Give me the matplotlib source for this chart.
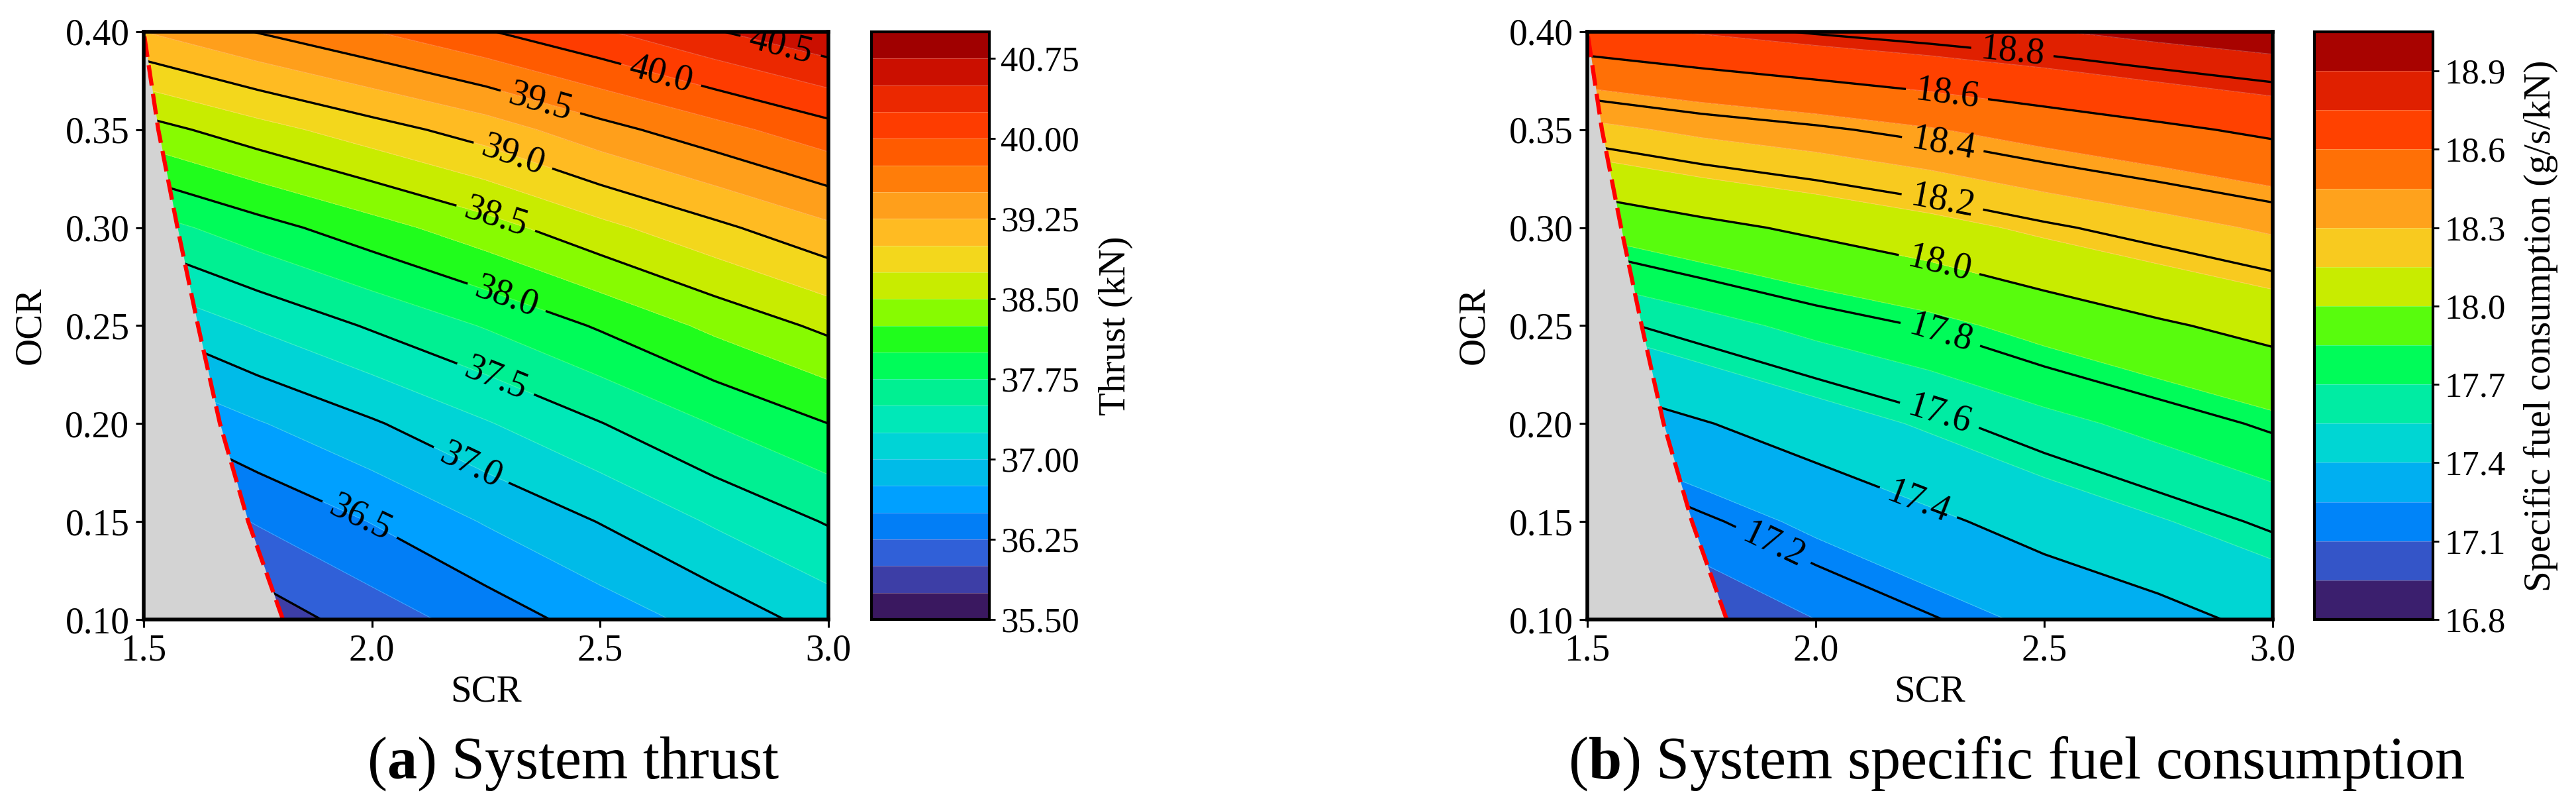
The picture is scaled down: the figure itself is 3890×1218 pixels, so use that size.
import numpy as np
import matplotlib
matplotlib.use('Agg')
import matplotlib.pyplot as plt
from matplotlib.colors import LinearSegmentedColormap
from matplotlib.ticker import FormatStrFormatter

plt.rcParams['font.family'] = 'Liberation Serif'
plt.rcParams['mathtext.fontset'] = 'custom'
plt.rcParams['mathtext.rm'] = 'Liberation Serif'
plt.rcParams['mathtext.bf'] = 'Liberation Serif:bold'

# --- valores (filas = OCR, columnas = SCR) ---
scr = [1.5, 1.75, 2.0, 2.25, 2.5, 2.75, 3.0]
ocr = [0.10, 0.15, 0.20, 0.25, 0.30, 0.35, 0.40]

thrust_kn = [
    [35.50, 35.85, 36.12, 36.36, 36.61, 36.84, 37.10],
    [35.99, 36.27, 36.51, 36.77, 37.01, 37.28, 37.52],
    [36.47, 36.73, 36.97, 37.23, 37.49, 37.76, 38.00],
    [37.01, 37.28, 37.53, 37.77, 38.03, 38.31, 38.56],
    [37.63, 37.90, 38.15, 38.40, 38.68, 38.94, 39.20],
    [38.39, 38.65, 38.89, 39.12, 39.41, 39.66, 39.91],
    [39.25, 39.51, 39.74, 39.98, 40.22, 40.48, 40.71],
]

sfc_gskn = [
    [16.82, 16.99, 17.10, 17.19, 17.28, 17.35, 17.44],
    [17.06, 17.18, 17.28, 17.37, 17.46, 17.54, 17.62],
    [17.30, 17.39, 17.48, 17.57, 17.66, 17.74, 17.82],
    [17.56, 17.65, 17.74, 17.81, 17.90, 17.98, 18.05],
    [17.88, 17.96, 18.03, 18.10, 18.18, 18.25, 18.32],
    [18.26, 18.33, 18.38, 18.44, 18.51, 18.57, 18.63],
    [18.71, 18.76, 18.81, 18.85, 18.89, 18.94, 18.98],
]

# limite de la zona no factible (linea roja discontinua)
limite_ocr = [0.10, 0.15, 0.20, 0.25, 0.30, 0.35, 0.40]
limite_scr = [1.805, 1.729, 1.667, 1.619, 1.574, 1.532, 1.50]

# colores de las bandas (muestreados de la barra de colores)
band_colors = ['#3a1860', '#3d3fa8', '#3060d8', '#0080f8', '#00a0ff', '#00bae8',
               '#00d5d5', '#00e8b8', '#00f090', '#00fc58', '#1dfd1d', '#8afb00',
               '#c8ec00', '#f2d81c', '#ffbb22', '#ffa01c', '#ff7f0a', '#ff5b00',
               '#ff3d00', '#eb2800', '#cc1000', '#a00000']

pos = (np.arange(len(band_colors)) + 0.5) / len(band_colors)
pos = np.concatenate([[0.0], pos, [1.0]])
cols = [band_colors[0]] + band_colors + [band_colors[-1]]
cmap = LinearSegmentedColormap.from_list('bandas', list(zip(pos, cols)))

W, H = 3890, 1218


def rect(x0, y0, x1, y1):
    # pixeles (origen arriba a la izquierda) -> fraccion de figura
    return [x0 / W, 1 - y1 / H, (x1 - x0) / W, (y1 - y0) / H]


def dibujar_panel(fig, r_ax, r_cb, z, niveles, lineas, ticks_cb, fmt_cb,
                  etiqueta_cb, pos_labels, x_lab_cb):
    ax = fig.add_axes(r_ax)
    cax = fig.add_axes(r_cb)
    S, O = np.meshgrid(scr, ocr)
    Z = np.array(z)

    cf = ax.contourf(S, O, Z, levels=niveles, cmap=cmap, zorder=1)
    ax.contour(S, O, Z, levels=niveles, colors='white', linewidths=0.8,
               alpha=0.25, zorder=1.5)
    cs = ax.contour(S, O, Z, levels=lineas, colors='black', linewidths=2.4,
                    zorder=2)
    ax.clabel(cs, fmt='%.1f', fontsize=40, manual=pos_labels, inline_spacing=14)

    ax.fill_betweenx(limite_ocr, 1.5, limite_scr, color='lightgray', lw=0,
                     zorder=3)
    ax.plot(limite_scr, limite_ocr, color='red', lw=4.5, ls=(0, (5, 2)),
            zorder=4)

    ax.set_xlim(1.5, 3.0)
    ax.set_ylim(0.10, 0.40)
    ax.set_xticks([1.5, 2.0, 2.5, 3.0])
    ax.set_yticks([0.10, 0.15, 0.20, 0.25, 0.30, 0.35, 0.40])
    ax.xaxis.set_major_formatter(FormatStrFormatter('%.1f'))
    ax.yaxis.set_major_formatter(FormatStrFormatter('%.2f'))
    ax.tick_params(labelsize=40, length=8.5, width=2.2, pad=7, direction='out')
    for sp in ax.spines.values():
        sp.set_linewidth(4)
        sp.set_zorder(10)

    ax.set_xlabel('SCR', fontsize=41)
    ax.xaxis.label.set_va('center')
    ax.xaxis.set_label_coords(0.5, -0.124)
    ax.set_ylabel('OCR', fontsize=41)
    ax.yaxis.label.set_va('center')
    ax.yaxis.set_label_coords(-0.165, 0.5)

    cb = fig.colorbar(cf, cax=cax, ticks=ticks_cb)
    cb.ax.yaxis.set_major_formatter(FormatStrFormatter(fmt_cb))
    cb.outline.set_linewidth(3)
    cb.ax.tick_params(labelsize=38, length=6.5, width=2, pad=6)
    for nv in niveles[1:-1]:
        cb.ax.axhline(nv, color='white', lw=0.8, alpha=0.25)
    cb.set_label(etiqueta_cb, fontsize=41)
    cb.ax.yaxis.label.set_va('center')
    cb.ax.yaxis.set_label_coords(x_lab_cb, 0.5)
    return ax


fig = plt.figure(figsize=(W / 100, H / 100), dpi=100)

dibujar_panel(
    fig, rect(217, 48, 1251, 935), rect(1316, 48, 1494, 935),
    thrust_kn, np.linspace(35.5, 41.0, 23), np.linspace(36.0, 40.5, 10),
    np.linspace(35.5, 40.75, 8), '%.2f', 'Thrust (kN)',
    [(2.895, 0.3925), (2.636, 0.380), (2.370, 0.365), (2.312, 0.339),
     (2.273, 0.306), (2.299, 0.267), (2.273, 0.224), (2.222, 0.181),
     (1.975, 0.152)],
    2.07)

dibujar_panel(
    fig, rect(2397, 48, 3432, 935), rect(3495, 48, 3674, 935),
    sfc_gskn, np.linspace(16.8, 19.05, 16), np.linspace(17.2, 18.8, 9),
    np.linspace(16.8, 18.9, 8), '%.1f', 'Specific fuel consumption (g/s/kN)',
    [(2.431, 0.3914), (2.288, 0.370), (2.279, 0.344), (2.279, 0.3155),
     (2.273, 0.284), (2.273, 0.246), (2.273, 0.206), (2.225, 0.160),
     (1.911, 0.140)],
    1.91)

fig.text(866 / W, 1 - 1153 / H, r'($\mathbf{a}$) System thrust', fontsize=65,
         ha='center', va='center')
fig.text(3045 / W, 1 - 1153 / H, r'($\mathbf{b}$) System specific fuel consumption',
         fontsize=65, ha='center', va='center')

fig.savefig('out.png', dpi=100)
